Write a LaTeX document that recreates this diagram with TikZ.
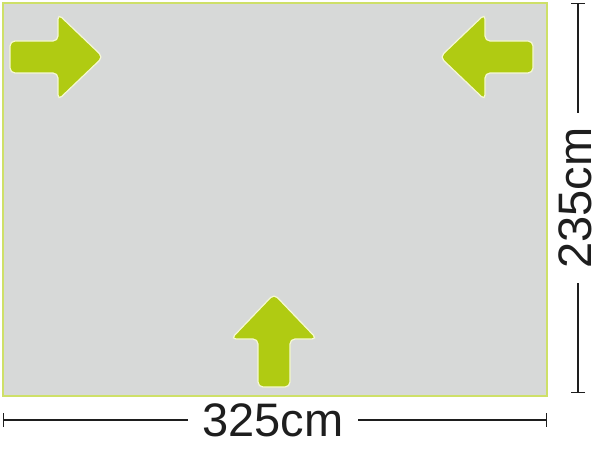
\documentclass[tikz,border=0pt]{standalone}
\usepackage{fontspec}
\setmainfont{Liberation Sans}
\usetikzlibrary{arrows.meta}

\definecolor{floorgrey}{RGB}{215,217,216}
\definecolor{edgelime}{RGB}{206,224,104}
\definecolor{markerlime}{RGB}{176,203,18}
\definecolor{markerrim}{RGB}{245,248,212}
\definecolor{dimink}{RGB}{30,30,30}

\tikzset{
  pics/guide/.style={code={
    \draw[marker] (0,0) -- (-45,-43) -- (-45,-16) -- (-93,-16)
      -- (-93,16) -- (-45,16) -- (-45,43) -- cycle;
  }}
}

\begin{document}
\begin{tikzpicture}[x=1pt, y=1pt]
        \tikzstyle{floor}=[fill=floorgrey,draw=edgelime,line width=1.2pt]
        \tikzstyle{marker}=[fill=markerlime,draw=markerrim,line width=1.2pt,rounded corners=5pt]
        \tikzstyle{dimline}=[draw=dimink,line width=1.3pt,{Bar[width=14pt,line width=1.3pt]}-]
        \tikzstyle{dimlabel}=[text=dimink,font=\fontsize{47}{47}\selectfont,inner sep=0pt,inner xsep=14pt]

        \useasboundingbox (0,0) rectangle (600,448);

        % floor of the tent
        \draw[floor] (3,52) rectangle (547,445);

        % entrance markers
        \pic at (103,391) {guide};
        \pic[rotate=180] at (440,391) {guide};
        \pic[rotate=90] at (274,154) {guide};

        % width
        \coordinate (wleft) at (3,28);
        \coordinate (wright) at (547,28);
        \node[dimlabel] (width) at (273,28) {325cm};
        \draw[dimline] (wleft) -- (width);
        \draw[dimline] (wright) -- (width);

        % depth
        \coordinate (dtop) at (578,445);
        \coordinate (dbottom) at (578,55);
        \node[dimlabel, rotate=90] (depth) at (575,250) {235cm};
        \draw[dimline] (dtop) -- (dtop |- depth.east);
        \draw[dimline] (dbottom) -- (dbottom |- depth.west);
\end{tikzpicture}
\end{document}
